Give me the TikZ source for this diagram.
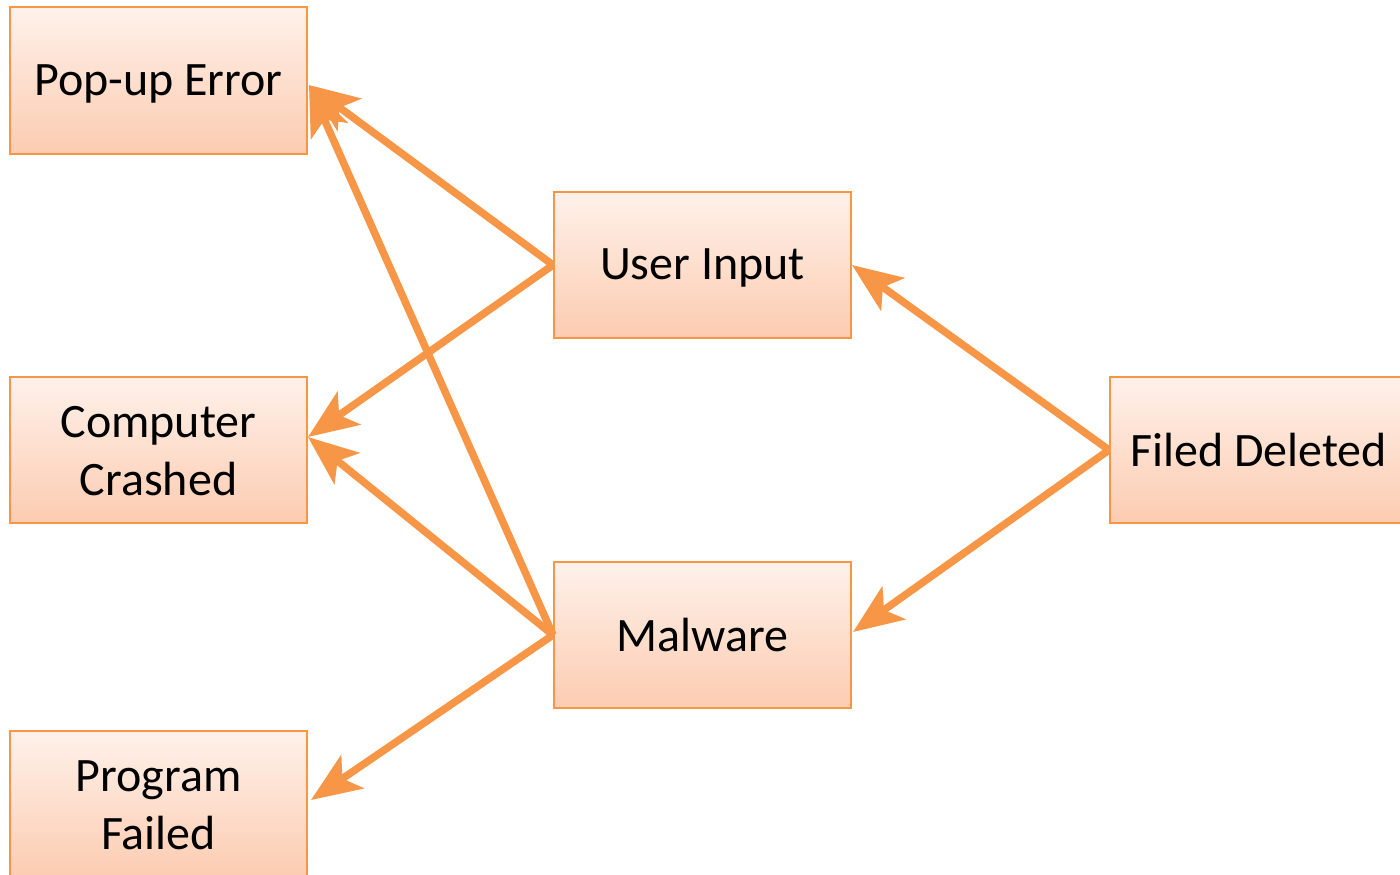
\documentclass[tikz,border=0pt]{standalone}
\usepackage{fontspec}
\setmainfont{Carlito}
\usetikzlibrary{arrows.meta,calc}
\definecolor{acc}{HTML}{F79646}
\definecolor{topc}{HTML}{FEF1EA}
\definecolor{botc}{HTML}{FCCCB1}
\newcommand\lnstrut{\rule[-5pt]{0pt}{42pt}}
\begin{document}
\begin{tikzpicture}[x=1pt,y=1pt,
 box/.style={draw=acc, line width=2pt, top color=topc, bottom color=botc, minimum width=297pt, minimum height=146pt, inner sep=0pt, align=center, font=\fontsize{48}{58}\selectfont, text=black},
 link/.style={draw=acc, line width=7.5pt, -{Stealth[length=50pt,width=40pt,inset=12pt]}}]
\useasboundingbox (0,-875) rectangle (1400,0);
\node[box] (pe) at (158.5,-80.5) {\lnstrut Pop-up Error};
\node[box] (ui) at (702.5,-265) {\lnstrut User Input};
\node[box] (cc) at (158.5,-450) {\lnstrut Computer\\\lnstrut Crashed};
\node[box] (fd) at (1258.5,-450) {\lnstrut Filed Deleted};
\node[box] (mw) at (702.5,-635) {\lnstrut Malware};
\node[box] (pf) at (158.5,-804) {\lnstrut Program\\\lnstrut Failed};
\draw[link] (ui.west) -- ($(pe.east)+(1,-4.5)$);
\draw[link] (ui.west) -- ($(cc.east)+(0,13)$);
\draw[link] (mw.west) -- ($(pe.east)+(1,-4.5)$);
\draw[link] (mw.west) -- ($(cc.east)+(0,13)$);
\draw[link] (mw.west) -- ($(pf.east)+(3,4)$);
\draw[link] (fd.west) -- (ui.east);
\draw[link] (fd.west) -- ($(mw.east)+(1,3)$);
\end{tikzpicture}
\end{document}
